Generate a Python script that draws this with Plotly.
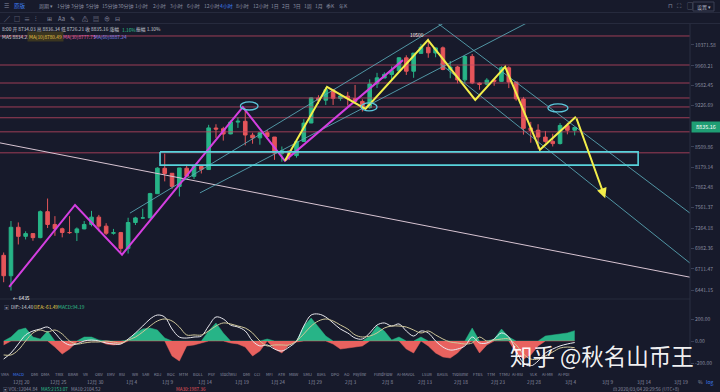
import math
import pandas as pd
import plotly.graph_objects as go

W, H = 720, 392
def px(x): return x / W
def py(y): return 1 - y / H

# ---------------- data (daily candles, BTC/USDT) ----------------
dates = pd.date_range('2019-12-17', '2020-03-04', freq='D')
opens = [6891, 6623, 7277, 7150, 7188, 7132, 7501, 7317, 7256, 7204, 7202, 7254, 7317, 7422, 7293,
         7194, 7202, 6985, 7345, 7410, 7411, 7768, 8161, 8082, 7879, 8162, 8034, 8189, 8141, 8825,
         8813, 8725, 8927, 8941, 8704, 8658, 8744, 8672, 8398, 8439, 8365, 8597, 8912, 9357, 9316, 9508,
         9346, 9389, 9345, 9293, 9183, 9617, 9726, 9794, 9863, 10115, 9855, 10203, 10323, 10211, 10313,
         9889, 9937, 9691, 10143, 9629, 9611, 9687, 9663, 9921, 9651, 9338, 8826, 8788, 8671,
         8599, 8563, 8866, 8787]
highs = [6929, 7366, 7346, 7220, 7190, 7519, 7695, 7436, 7272, 7436, 7275, 7366, 7513, 7454, 7335,
         7254, 7212, 7413, 7427, 7544, 7781, 8178, 8396, 8082, 8166, 8218, 8192, 8197, 8880, 8890,
         8846, 8959, 9012, 9165, 8745, 8755, 8792, 8673, 8514, 8446, 8598, 8977, 9371, 9406, 9553, 9521,
         9440, 9468, 9596, 9331, 9701, 9824, 9834, 9948, 10129, 10165, 10210, 10393, 10500, 10321, 10341,
         10053, 9959, 10161, 10191, 9643, 9723, 9698, 9951, 9951, 9652, 9375, 8932, 8890, 8775,
         8727, 8910, 8916, 8845]
lows = [6540, 6435, 7038, 7107, 7089, 7124, 7267, 7157, 7136, 7185, 7085, 7249, 7290, 7220, 7169,
        7174, 6935, 6915, 7309, 7400, 7409, 7768, 7956, 7842, 7726, 8030, 7994, 8079, 8140, 8657,
        8612, 8718, 8827, 8533, 8560, 8544, 8636, 8296, 8266, 8296, 8331, 8597, 8908, 9248, 9230, 9230,
        9305, 9217, 9252, 9112, 9163, 9539, 9726, 9670, 9850, 9784, 9730, 10202, 10116, 10126, 9874,
        9722, 9626, 9632, 9611, 9507, 9589, 9581, 9658, 9537, 9305, 8713, 8577, 8476, 8574,
        8515, 8547, 8718, 8700]
closes = [6623, 7277, 7150, 7188, 7132, 7501, 7317, 7256, 7204, 7202, 7254, 7317, 7422, 7293, 7193,
          7200, 6985, 7345, 7411, 7411, 7769, 8163, 8079, 7879, 8166, 8037, 8192, 8144, 8827, 8807,
          8723, 8929, 8942, 8706, 8658, 8745, 8680, 8406, 8445, 8367, 8596, 8910, 9358, 9316, 9508, 9350,
          9392, 9344, 9293, 9180, 9613, 9729, 9795, 9865, 10116, 9856, 10208, 10326, 10214, 10312, 9889,
          9934, 9690, 10141, 9633, 9608, 9686, 9663, 9924, 9650, 9341, 8820, 8784, 8672, 8599,
          8562, 8869, 8787, 8835]

# MACD panel
macd_hist = [-36, 36, 100, 118, 36, 18, 90, -55, -118, -73,
             -9, 36, 36, 9, -27, -36, -27, 9, 73, 109,
             118, 100, 27, -136, -182, -45, -36, -18, 91, 164,
             73, -18, -27, -55, -136, -91, 18, -73, -109, -36,
             -9, 136, 209, 127, 45, -27, -73, -64, -55, -45,
             45, 136, 91, 9, 36, -73, -109, 36, -45, -109,
             -145, -155, -109, -36, 118, -109, -36, 18, 109, 36,
             -109, -164, -127, -45, 45, 55, 64, 73, 94]
macd_dif = [-164, -109, -27, 55, 91, 109, 127, 73, 0, -36,
            -27, 0, 9, 0, -18, -27, -27, 18, 73, 136,
            200, 236, 218, 109, 36, 27, 36, 45, 136, 218,
            200, 145, 127, 91, 0, -45, -36, -73, -91, -55,
            0, 136, 236, 245, 218, 164, 109, 73, 27, 18,
            73, 145, 164, 136, 155, 91, 45, 91, 73, 0,
            -55, -82, -73, -45, 36, -18, -18, 18, 73, 36,
            -91, -200, -227, -182, -109, -73, -45, -27, -14]
macd_dea = [-127, -127, -82, 0, 73, 100, 82, 100, 64, 0,
            -27, -18, -9, -9, 0, -9, -18, 9, 36, 82,
            136, 182, 200, 182, 127, 55, 55, 55, 91, 136,
            164, 155, 136, 118, 73, 0, -45, -36, -36, -36,
            0, 64, 136, 182, 200, 182, 145, 109, 55, 36,
            45, 73, 118, 136, 136, 127, 100, 73, 91, 55,
            18, -9, -18, -27, -18, 36, 0, 9, 18, 18,
            -36, -118, -164, -164, -136, -100, -64, -55, -61]

# axis tick labels
price_ticks = [10371.58, 9960.21, 9582.45, 9226.69, 8509.86, 8179.14, 7862.48,
               7561.37, 7264.18, 6982.36, 6711.47, 6441.15]
last_price = 8835.16
date_ticks = ['2019-12-20', '2019-12-25', '2019-12-30', '2020-01-04', '2020-01-09', '2020-01-14',
              '2020-01-19', '2020-01-24', '2020-01-29', '2020-02-03', '2020-02-08', '2020-02-13',
              '2020-02-18', '2020-02-23', '2020-02-28', '2020-03-04', '2020-03-09', '2020-03-14',
              '2020-03-19']

# user drawings (time, price)
levels = [10554, 9975, 9632, 9356, 9194, 9003, 8760, 8410]
purple_t = ['2019-12-18 06:00', '2019-12-27 06:00', '2020-01-02 16:00', '2020-01-19 04:00',
            '2020-01-24 22:00', '2020-02-10 01:00']
purple_p = [6480, 7600, 6900, 9190, 8280, 10070]
yellow_t = ['2020-01-24 22:00', '2020-01-30 16:00', '2020-02-04 22:00', '2020-02-13 11:00',
            '2020-02-19 22:00', '2020-02-24 00:00', '2020-02-28 18:00', '2020-03-04 16:00']
yellow_p = [8280, 9560, 9160, 10470, 9320, 9940, 8460, 9020]
arrow_head = ('2020-03-08 16:00', 7700)
channel_lines = [
    (('2020-02-12 09:00', 11100), ('2020-03-24 08:00', 7160)),
    (('2020-02-15 03:00', 10000), ('2020-03-24 08:00', 6480)),
    (('2020-01-03 18:00', 7480), ('2020-02-17 04:00', 10970)),
    (('2020-01-13 07:30', 7780), ('2020-02-28 18:30', 10970)),
]
long_line = (('2019-12-17 00:00', 8574), ('2020-03-24 08:00', 6530))
box = (('2020-01-07 20:40', 8425), ('2020-03-13 04:00', 8212))
ellipses = [
    (('2020-01-18 20:00', 9285), ('2020-01-21 06:00', 9140)),
    (('2020-02-04 08:00', 9266), ('2020-02-06 12:00', 9123)),
    (('2020-02-29 20:00', 9248), ('2020-03-03 14:00', 9105)),
]

X_START, X_END = '2019-12-17 00:00', '2020-03-20 06:00'
DAY = 86400000

BG = '#171a2b'
UP = '#27b487'
DN = '#e5555a'
AX = '#8a8ea1'
FONT = 'Noto Sans CJK SC, Noto Sans, sans-serif'

fig = go.Figure()

# horizontal levels
for p in levels:
    fig.add_trace(go.Scatter(x=[X_START, X_END], y=[p, p], mode='lines',
                             line=dict(color='rgba(190,70,98,0.8)', width=1),
                             hoverinfo='skip', showlegend=False))
# long pink diagonal
fig.add_trace(go.Scatter(x=[long_line[0][0], long_line[1][0]], y=[long_line[0][1], long_line[1][1]],
                         mode='lines', line=dict(color='#d8c4d2', width=1), hoverinfo='skip', showlegend=False))
# channel lines
for (a, b) in channel_lines:
    fig.add_trace(go.Scatter(x=[a[0], b[0]], y=[a[1], b[1]], mode='lines',
                             line=dict(color='rgba(90,170,185,0.85)', width=1),
                             hoverinfo='skip', showlegend=False))

# candles
fig.add_trace(go.Candlestick(x=dates, open=opens, high=highs, low=lows, close=closes,
                             increasing=dict(line=dict(color=UP, width=1), fillcolor=UP),
                             decreasing=dict(line=dict(color=DN, width=1), fillcolor=DN),
                             whiskerwidth=0, xperiod=DAY, xperiodalignment='middle',
                             hoverinfo='skip', showlegend=False))

# zigzag drawings
fig.add_trace(go.Scatter(x=purple_t, y=purple_p, mode='lines', line=dict(color='#d43fe0', width=2),
                         hoverinfo='skip', showlegend=False))
fig.add_trace(go.Scatter(x=yellow_t, y=yellow_p, mode='lines', line=dict(color='#f2ee4a', width=2),
                         hoverinfo='skip', showlegend=False))
# support box
(t0, p0), (t1, p1) = box
fig.add_trace(go.Scatter(x=[t0, t1, t1, t0, t0], y=[p0, p0, p1, p1, p0], mode='lines',
                         line=dict(color='#58d3dc', width=1.6), hoverinfo='skip', showlegend=False))

# MACD
hpos = [v if v > 0 else 0 for v in macd_hist]
hneg = [v if v < 0 else 0 for v in macd_hist]
fig.add_trace(go.Scatter(x=dates, y=hpos, mode='lines', fill='tozeroy', fillcolor=UP,
                         line=dict(color=UP, width=0.5), xperiod=DAY, xperiodalignment='middle',
                         xaxis='x2', yaxis='y2', hoverinfo='skip', showlegend=False))
fig.add_trace(go.Scatter(x=dates, y=hneg, mode='lines', fill='tozeroy', fillcolor='#e8625f',
                         line=dict(color='#e8625f', width=0.5), xperiod=DAY, xperiodalignment='middle',
                         xaxis='x2', yaxis='y2', hoverinfo='skip', showlegend=False))
fig.add_trace(go.Scatter(x=dates, y=macd_dif, mode='lines', line=dict(color='#e8e8ee', width=1),
                         xperiod=DAY, xperiodalignment='middle', line_shape='spline',
                         xaxis='x2', yaxis='y2', hoverinfo='skip', showlegend=False))
fig.add_trace(go.Scatter(x=dates, y=macd_dea, mode='lines', line=dict(color='#cfc79a', width=1),
                         xperiod=DAY, xperiodalignment='middle', line_shape='spline',
                         xaxis='x2', yaxis='y2', hoverinfo='skip', showlegend=False))

shapes = []
for (a, b) in ellipses:
    shapes.append(dict(type='circle', xref='x', yref='y', x0=a[0], x1=b[0], y0=a[1], y1=b[1],
                       line=dict(color='#5cc8dc', width=1.3)))
# separators
shapes += [
    dict(type='line', xref='paper', yref='paper', x0=0, x1=1, y0=py(12.5), y1=py(12.5), line=dict(color='#262a3d', width=1)),
    dict(type='line', xref='paper', yref='paper', x0=0, x1=1, y0=py(23.5), y1=py(23.5), line=dict(color='#262a3d', width=1)),
    dict(type='line', xref='paper', yref='paper', x0=0, x1=px(690), y0=py(299), y1=py(299), line=dict(color='#262a3d', width=1)),
    dict(type='line', xref='paper', yref='paper', x0=px(690), x1=px(690), y0=py(24), y1=py(366), line=dict(color='#2a2e42', width=1)),
    dict(type='rect', xref='paper', yref='paper', x0=px(693), x1=px(714), y0=py(11), y1=py(2), line=dict(color='#3a3f55', width=1)),
]

ann = []
def txt(x, y, s, size=5, color=AX, anchor='left', bg=None, pad=1):
    d = dict(x=px(x), y=py(y), xref='paper', yref='paper', text=s, showarrow=False,
             xanchor=anchor, yanchor='middle', borderpad=pad,
             font=dict(size=size, color=color, family=FONT))
    if bg:
        d['bgcolor'] = bg
    ann.append(d)

# toolbar row 1
txt(2, 6, '☰', 6, '#8a8ea1')
txt(12, 6, '原版', 5.5, '#3d7ef5')
toolbar = [('周期 ▾', 37), ('1分钟', 55), ('3分钟', 69), ('5分钟', 84), ('15分钟', 100), ('30分钟', 116),
           ('1小时', 133), ('2小时', 151), ('3小时', 168), ('6小时', 185), ('12小时', 202), ('4小时', 218),
           ('8小时', 234), ('12小时', 251), ('1日', 269), ('2日', 280), ('3日', 291), ('1周', 302),
           ('1月', 313), ('季K', 324), ('年K', 337)]
for s, x in toolbar:
    txt(x, 6, s, 5, '#3d7ef5' if (s == '4小时' and x == 218) else '#8a8ea1')
for s, x in [('⊓', 666), ('⛶', 675), ('▢', 685)]:
    txt(x, 6, s, 6, '#8a8ea1')
txt(703.5, 6.5, '设置 ▾', 5, '#b0b4c4', anchor='center')
# toolbar row 2 (drawing tools)
for s, x in [('╱', 2), ('□', 12), ('≡', 22), ('⫶', 33), ('⊞', 45), ('Aa', 56), ('✎', 68),
             ('⚠', 80), ('▤', 91), ('⊕', 102), ('⊟', 113)]:
    txt(x, 18, s, 6, '#8a8ea1')
# OHLC row
txt(0, 29.5, '8:00 开 8734.03 高 8836.34 低 8726.21 收 8835.16 涨幅', 4.8, '#c9ccd6')
txt(120, 29.5, '1.16%', 4.8, '#2fc08f')
txt(134, 29.5, '振幅 1.10%', 4.8, '#c9ccd6')
# MA row
txt(0, 37, 'MA5 8834.22', 4.8, '#d8d8de')
txt(27, 37, 'MA(10)8780.49', 4.8, '#e8c547', bg='#3a3520')
txt(61, 37, 'MA(30)8777.75', 4.8, '#e060a8')
txt(92, 37, 'MA(60)8887.24', 4.8, '#7f86f0')
# MACD legend
txt(2, 306, '▣', 5, '#8a8ea1')
txt(9, 306, 'DIF:-14.40', 4.8, '#d8d8de')
txt(32, 306, 'DEA:-61.49', 4.8, '#e8d24a')
txt(56, 306, 'MACD:94.19', 4.8, '#2fc08f')
# indicator row
inds = [('VMA', 0), ('MACD', 12), ('DMI', 30), ('DMA', 40), ('TRIX', 54), ('BRAR', 67), ('VR', 82),
        ('OBV', 94), ('EMV', 106), ('RSI', 118), ('WR', 131), ('SAR', 141), ('KDJ', 153), ('ROC', 166),
        ('MTM', 178), ('BOLL', 192), ('PSY', 207), ('StochRSI', 219), ('DMI', 242), ('CCI', 253),
        ('MFI', 265), ('ATR', 277), ('MBW', 288), ('SMIJ', 302), ('BIAS', 316), ('DPO', 330), ('AO', 343),
        ('Psyline', 352), ('FundFlow', 373), ('AI-MAVOL', 396), ('LSUR', 421), ('BASIS', 436),
        ('Tvolume', 451), ('FTBS', 472), ('TTM', 486), ('TTMU', 498), ('AI-RSI', 511), ('VLK', 529),
        ('AI-MR', 541), ('AI-PDI', 557)]
for s, x in inds:
    txt(x, 374, s, 4.0, '#3d7ef5' if s == 'MACD' else '#8a8ea1', pad=0)
# date row
for d in date_ticks:
    ts = pd.Timestamp(d)
    ann.append(dict(x=d, y=py(381.5), xref='x2', yref='paper', text=f'{ts.month}月 {ts.day}',
                    showarrow=False, xanchor='center', yanchor='middle', borderpad=0,
                    font=dict(size=4.8, color=AX, family=FONT)))
txt(697, 381.5, '%', 5, '#8a8ea1', pad=0)
txt(705, 381.5, 'log', 5, '#3d7ef5', pad=0)
# bottom row
txt(2, 388.5, '▣ VOL:12044.84', 4.6, '#8a8ea1', pad=0)
txt(40, 388.5, 'MA5:2153.07', 4.6, '#2fc08f', pad=0)
txt(70, 388.5, 'MA10:2104.52', 4.6, '#8a8ea1', pad=0)
txt(175, 388.5, 'MA30:1987.36', 4.6, '#e5555a', pad=0)
txt(612, 388.5, '⊡ 2020/03/04 20:29:56 (UTC+8)', 4.6, '#8a8ea1', pad=0)

# price labels on chart
ann.append(dict(x='2020-02-13 11:00', y=math.log10(10480), xref='x', yref='y', text='10500',
                showarrow=False, xanchor='right', yanchor='bottom', xshift=-2,
                font=dict(size=4.8, color='#ffffff', family=FONT)))
ann.append(dict(x='2019-12-18 12:00', y=math.log10(6435), xref='x', yref='y', text='← 6435',
                showarrow=False, xanchor='left', yanchor='top', yshift=-1,
                font=dict(size=4.8, color='#ffffff', family=FONT)))
# projection arrow
ann.append(dict(x=arrow_head[0], y=math.log10(arrow_head[1]), xref='x', yref='y',
                ax=yellow_t[-1], ay=math.log10(yellow_p[-1]), axref='x', ayref='y',
                showarrow=True, arrowhead=2, arrowsize=1, arrowwidth=2, arrowcolor='#f2ee4a', text=''))
# last price tag
ann.append(dict(x=px(690.5), y=math.log10(last_price), xref='paper', yref='y', text=f'{last_price:.2f}',
                showarrow=False, xanchor='left', yanchor='middle', bgcolor='#1f9e74', width=26,
                font=dict(size=5.5, color='#ffffff', family=FONT)))
# watermark
ann.append(dict(x=px(695), y=py(355), xref='paper', yref='paper', text='知乎 @秋名山币王',
                showarrow=False, xanchor='right', yanchor='middle', borderpad=0,
                font=dict(size=22.5, color='rgba(255,255,255,0.96)', family='Noto Sans CJK SC')))

fig.update_layout(
    width=W, height=H, margin=dict(l=0, r=0, t=0, b=0),
    paper_bgcolor=BG, plot_bgcolor=BG, showlegend=False,
    font=dict(family=FONT, color=AX),
    xaxis=dict(domain=[0, px(690)], range=[X_START, X_END], type='date', anchor='y',
               showgrid=False, zeroline=False, showticklabels=False, rangeslider=dict(visible=False),
               fixedrange=True),
    xaxis2=dict(domain=[0, px(690)], matches='x', type='date', anchor='y2', showgrid=False,
                zeroline=False, showticklabels=False, fixedrange=True),
    yaxis=dict(domain=[py(298), py(24)], type='log', range=[3.80227, 4.03352], side='right',
               tickvals=price_ticks, ticktext=[f'{v:.2f}' for v in price_ticks],
               tickfont=dict(size=5, color=AX), ticks='outside', ticklen=3, tickcolor='#3a3f55',
               showgrid=False, zeroline=False, anchor='x', automargin=False, fixedrange=True),
    yaxis2=dict(domain=[py(366), py(300)], range=[-227.3, 372.7], side='right',
                tickvals=[200, 0, -200], ticktext=['200.00', '0.00', '-200.00'],
                tickfont=dict(size=5, color=AX), ticks='outside', ticklen=3, tickcolor='#3a3f55',
                showgrid=False, zeroline=False, anchor='x2', automargin=False, fixedrange=True),
    shapes=shapes, annotations=ann,
)

fig.write_html('out.html', config={'displayModeBar': False},
               post_script="document.body.style.margin='0px';document.body.style.overflow='hidden';")
